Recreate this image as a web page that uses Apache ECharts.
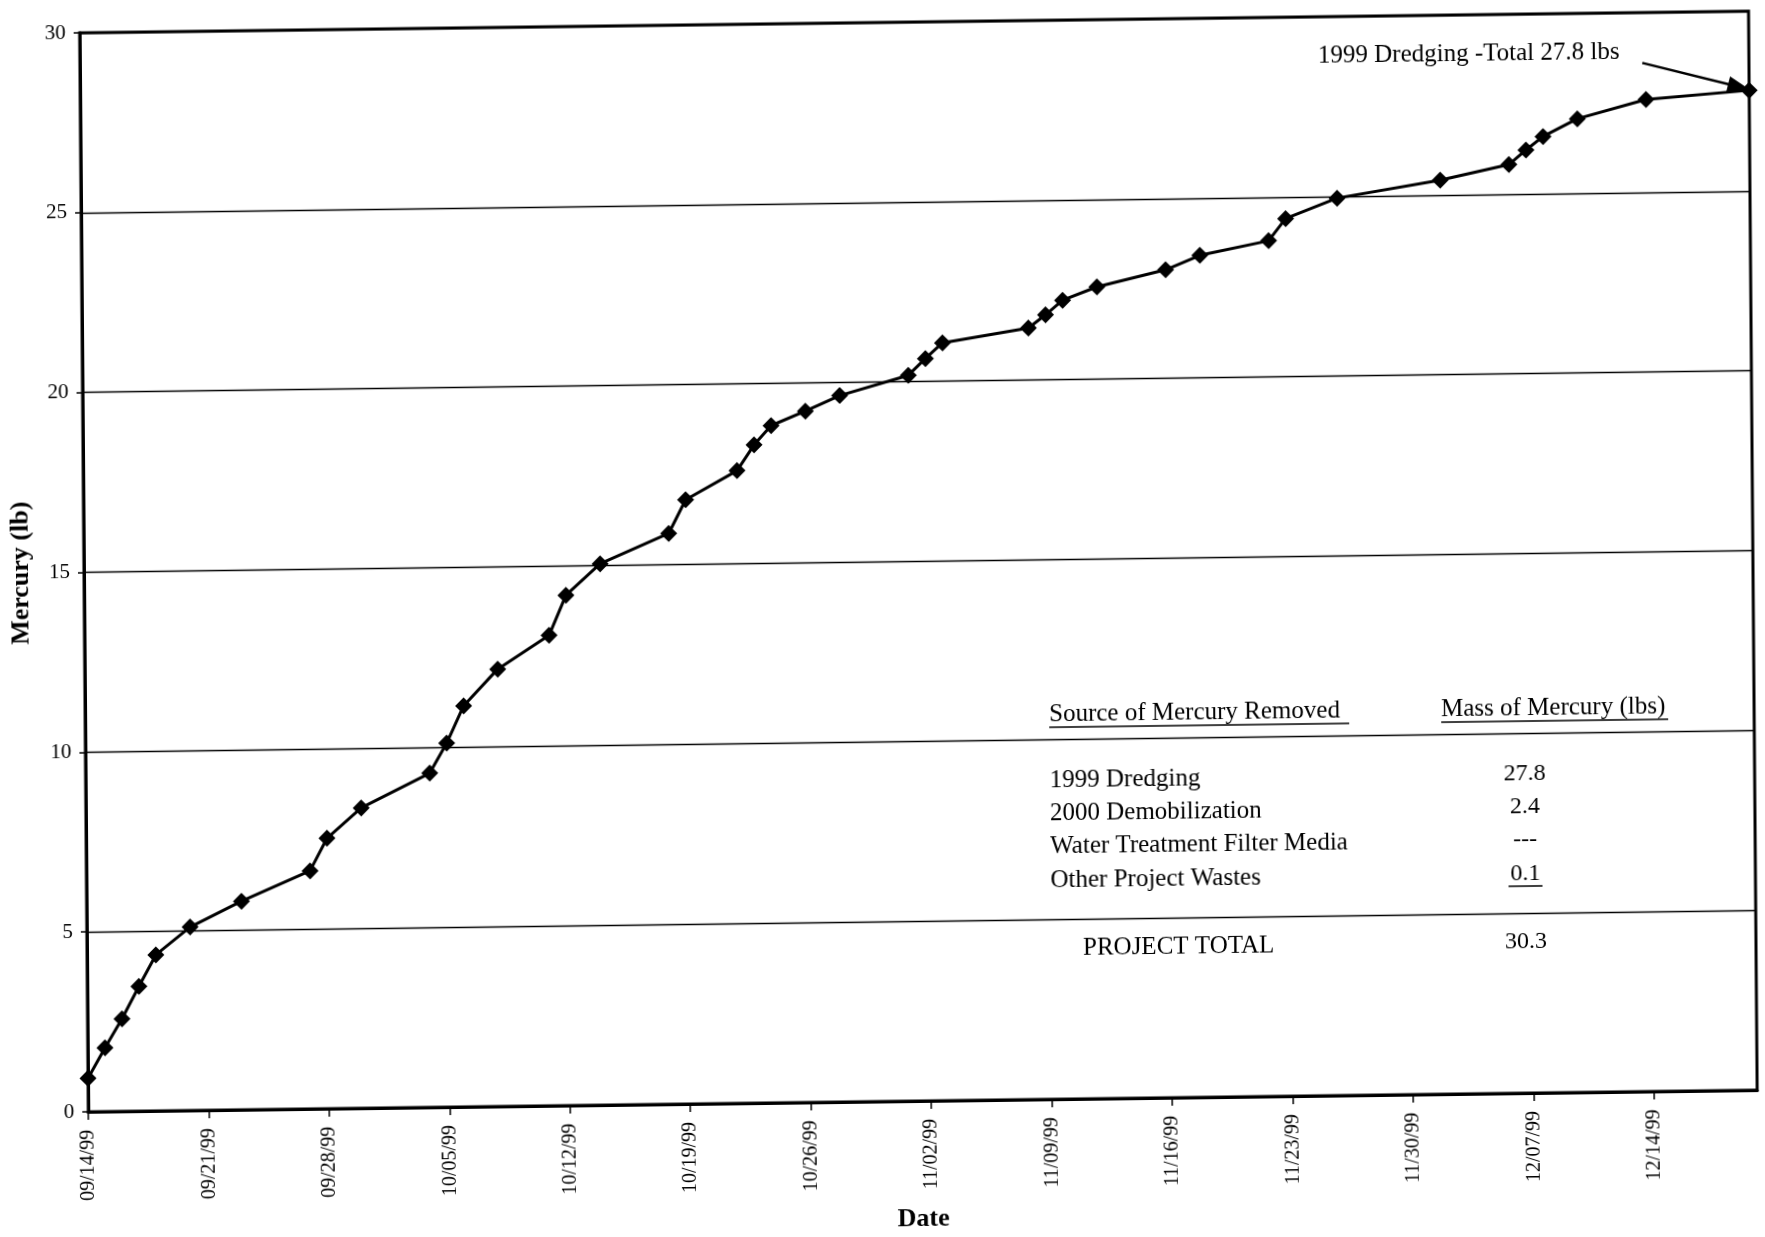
<!DOCTYPE html>
<html>
<head>
<meta charset="utf-8">
<script src="https://cdn.jsdelivr.net/npm/echarts@6/dist/echarts.min.js"></script>
<style>
  html, body { margin: 0; padding: 0; background: #fff; }
  #chart {
    width: 1765px; height: 1237px; background: #fff;
    transform: matrix(1, -0.013, 0.008, 1, 0, 0); transform-origin: 918px 563px;
  }
</style>
</head>
<body>
<div id="chart"></div>
<script>
// Cumulative mercury removed during 1999 dredging (sample date, lb)
const sampleDates = [
  '09/14/99','09/15/99','09/16/99','09/17/99','09/18/99','09/20/99','09/23/99',
  '09/27/99','09/28/99','09/30/99','10/04/99','10/05/99','10/06/99','10/08/99',
  '10/11/99','10/12/99','10/14/99','10/18/99','10/19/99','10/22/99','10/23/99',
  '10/24/99','10/26/99','10/28/99','11/01/99','11/02/99','11/03/99','11/08/99',
  '11/09/99','11/10/99','11/12/99','11/16/99','11/18/99','11/22/99','11/23/99',
  '11/26/99','12/02/99','12/06/99','12/07/99','12/08/99','12/10/99','12/14/99',
  '12/20/99'
];
const mercuryLbs = [
  0.93, 1.77, 2.57, 3.47, 4.34, 5.10, 5.80,
  6.62, 7.52, 8.35, 9.29, 10.12, 11.15, 12.16,
  13.08, 14.19, 15.05, 15.87, 16.80, 17.59, 18.30,
  18.83, 19.22, 19.64, 20.18, 20.64, 21.07, 21.45,
  21.81, 22.21, 22.57, 23.02, 23.41, 23.79, 24.40,
  24.95, 25.41, 25.82, 26.22, 26.59, 27.07, 27.58,
  27.8
];
const tickDates = [
  '09/14/99','09/21/99','09/28/99','10/05/99','10/12/99','10/19/99','10/26/99',
  '11/02/99','11/09/99','11/16/99','11/23/99','11/30/99','12/07/99','12/14/99'
];
const yTicks = [0, 5, 10, 15, 20, 25, 30];

// Summary table of mercury sources
const sourceNames = ['1999 Dredging', '2000 Demobilization', 'Water Treatment Filter Media', 'Other Project Wastes'];
const sourceMass = ['27.8', '2.4', '---', '0.1'];
const projectTotal = '30.3';

const SERIF = '"Liberation Serif", "Times New Roman", serif';
const DAY = 86400000;
function toTime(s) {
  const [m, d, y] = s.split('/').map(Number);
  return Date.UTC(1900 + y, m - 1, d);
}
const t0 = toTime(sampleDates[0]);
const dayOf = s => Math.round((toTime(s) - t0) / DAY);
const points = sampleDates.map((s, i) => [dayOf(s), mercuryLbs[i]]);
const lastPoint = points[points.length - 1];

const chart = echarts.init(document.getElementById('chart'));

const tableX = 1048, valueX = 1523;
const rowY = [782, 815, 848, 882];
const graphics = [];
graphics.push({ type: 'text', x: tableX, y: 716,
  style: { text: 'Source of Mercury Removed', font: '25px ' + SERIF, fill: '#000', verticalAlign: 'middle' } });
graphics.push({ type: 'line', shape: { x1: tableX, y1: 729, x2: 1348, y2: 729 }, style: { stroke: '#000', lineWidth: 1.5 } });
graphics.push({ type: 'text', x: 1440, y: 716,
  style: { text: 'Mass of Mercury (lbs)', font: '25px ' + SERIF, fill: '#000', verticalAlign: 'middle' } });
graphics.push({ type: 'line', shape: { x1: 1440, y1: 729, x2: 1667, y2: 729 }, style: { stroke: '#000', lineWidth: 1.5 } });
sourceNames.forEach((name, i) => {
  graphics.push({ type: 'text', x: tableX, y: rowY[i],
    style: { text: name, font: '25px ' + SERIF, fill: '#000', verticalAlign: 'middle' } });
  graphics.push({ type: 'text', x: valueX, y: rowY[i],
    style: { text: sourceMass[i], font: '24px ' + SERIF, fill: '#000', align: 'center', verticalAlign: 'middle' } });
});
graphics.push({ type: 'line', shape: { x1: valueX - 17, y1: rowY[3] + 12, x2: valueX + 17, y2: rowY[3] + 12 },
  style: { stroke: '#000', lineWidth: 1.5 } });
graphics.push({ type: 'text', x: 1080, y: 950,
  style: { text: 'PROJECT TOTAL', font: '25px ' + SERIF, fill: '#000', verticalAlign: 'middle' } });
graphics.push({ type: 'text', x: valueX, y: 950,
  style: { text: projectTotal, font: '24px ' + SERIF, fill: '#000', align: 'center', verticalAlign: 'middle' } });
graphics.push({ type: 'text', x: 1322, y: 61,
  style: { text: '1999 Dredging -Total ' + lastPoint[1] + ' lbs', font: '25px ' + SERIF, fill: '#000', verticalAlign: 'middle' } });

chart.setOption({
  animation: false,
  backgroundColor: '#fff',
  grid: { left: 72, top: 22, right: 12, bottom: 123, show: true, borderColor: '#000', borderWidth: 3 },
  xAxis: {
    type: 'value', min: 0, max: lastPoint[0], interval: 7,
    name: 'Date', nameLocation: 'middle', nameGap: 105,
    nameTextStyle: { fontFamily: SERIF, fontSize: 26, fontWeight: 'bold', color: '#000' },
    axisLine: { show: true, onZero: false, lineStyle: { color: '#000', width: 3 } },
    axisTick: { show: true, length: 8, lineStyle: { color: '#000', width: 1.5 } },
    axisLabel: {
      rotate: 90, margin: 18, showMaxLabel: false,
      fontFamily: SERIF, fontSize: 20, color: '#000',
      formatter: v => (v % 7 === 0 && tickDates[v / 7]) ? tickDates[v / 7] : ''
    },
    splitLine: { show: false }
  },
  yAxis: {
    type: 'value', min: yTicks[0], max: yTicks[yTicks.length - 1], interval: yTicks[1] - yTicks[0],
    name: 'Mercury (lb)', nameLocation: 'middle', nameGap: 50, nameRotate: 90,
    nameTextStyle: { fontFamily: SERIF, fontSize: 26, fontWeight: 'bold', color: '#000' },
    axisLine: { show: true, lineStyle: { color: '#000', width: 3 } },
    axisTick: { show: true, length: 6, lineStyle: { color: '#000', width: 1.5 } },
    axisLabel: { margin: 14, fontFamily: SERIF, fontSize: 21, color: '#000' },
    splitLine: { show: true, lineStyle: { color: '#000', width: 1.3 } }
  },
  series: [{
    type: 'line',
    data: points,
    symbol: 'diamond', symbolSize: 17,
    lineStyle: { color: '#000', width: 3 },
    itemStyle: { color: '#000' },
    emphasis: { disabled: true },
    clip: false,
    markLine: {
      silent: true, animation: false,
      symbolSize: [16, 22],
      label: { show: false },
      lineStyle: { color: '#000', width: 2.5, type: 'solid' },
      emphasis: { disabled: true },
      data: [[
        { coord: [90.8, 28.6], symbol: 'none' },
        { coord: [96.4, 27.9], symbol: 'triangle' }
      ]]
    }
  }],
  graphic: graphics
});
</script>
</body>
</html>
